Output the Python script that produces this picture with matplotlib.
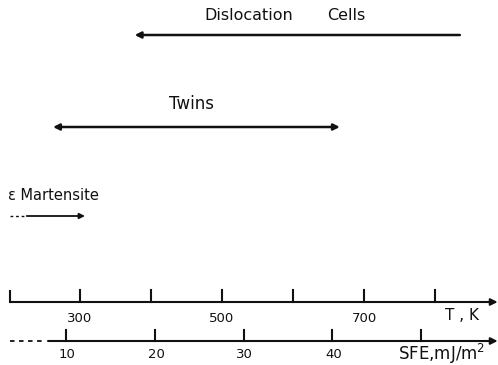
import numpy as np
import matplotlib.pyplot as plt

# Rangos de cada mecanismo (en K)
mecanismos = ['Dislocation Cells', 'Twins', 'ε Martensite']
t_inicio = [835, 262, 225]   # extremo donde empieza la flecha
t_fin = [377, 666, 307]      # extremo donde apunta la flecha
t_discont = 201              # inicio de la parte punteada de martensita

# Ejes de temperatura y SFE
t_ticks = [300, 400, 500, 600, 700, 800]
t_labels = ['300', '', '500', '', '700', '']
sfe_ticks = [10, 20, 30, 40, 50]
sfe_labels = ['10', '20', '30', '40', '']

# Conversion pixel <-> T
px_por_K = 0.71
T0 = 300 - 80 / px_por_K
T1 = 300 + 418 / px_por_K


def px(x):
    return T0 + x / px_por_K


def sfe_a_T(s):
    return px(66 + (np.asarray(s) - 10) * 8.875)


col = '#111111'
plt.rcParams['font.family'] = ['DejaVu Sans']

fig = plt.figure(figsize=(4.98, 3.65), dpi=100)
ax = fig.add_axes([0, 0, 1, 1])
ax.set_xlim(T0, T1)
ax.set_ylim(365, 0)
ax.axis('off')

# Flechas de mecanismos
ax.annotate('', xy=(t_fin[0], 35), xytext=(t_inicio[0], 35),
            arrowprops=dict(arrowstyle='-|>', color=col, lw=1.8, mutation_scale=9,
                            shrinkA=0, shrinkB=0))
pal1, pal2 = mecanismos[0].split()
ax.text(px(204), 16, pal1, fontsize=11.5, ha='left', va='center', color=col)
ax.text(px(327), 15, pal2, fontsize=11.5, ha='left', va='center', color=col)

ax.annotate('', xy=(t_fin[1], 127), xytext=(t_inicio[1], 127),
            arrowprops=dict(arrowstyle='<|-|>', color=col, lw=1.8, mutation_scale=9,
                            shrinkA=0, shrinkB=0))
ax.text(px(191), 104, mecanismos[1], fontsize=12, ha='center', va='center', color=col)

ax.plot([t_discont, t_inicio[2] - 3], [216, 216], color=col, lw=1, ls=(0, (2, 2)))
ax.annotate('', xy=(t_fin[2], 216), xytext=(t_inicio[2], 216),
            arrowprops=dict(arrowstyle='-|>', color=col, lw=1.3, mutation_scale=8,
                            shrinkA=0, shrinkB=0))
ax.text(px(8), 195, mecanismos[2], fontsize=10.5, ha='left', va='center', color=col)

# Eje de temperatura
y_T = 302
x_izq = px(10)
ax.annotate('', xy=(T1 - 0.5, y_T), xytext=(x_izq, y_T),
            arrowprops=dict(arrowstyle='-|>', color=col, lw=1.5, mutation_scale=10,
                            shrinkA=0, shrinkB=0))
ax.plot([x_izq, x_izq], [y_T, y_T - 11], color=col, lw=1.5)
for t, lab in zip(t_ticks, t_labels):
    ax.plot([t, t], [y_T, y_T - 12], color=col, lw=1.5)
    if lab:
        ax.text(t, 319, lab, fontsize=9.5, ha='center', va='center', color=col)
ax.text(px(462), 316, 'T , K', fontsize=11, ha='center', va='center', color=col)

# Eje de SFE
y_S = 341
ax.plot([x_izq, px(45)], [y_S, y_S], color=col, lw=1.3, ls=(0, (2.5, 2.5)))
ax.annotate('', xy=(T1 - 0.5, y_S), xytext=(px(48), y_S),
            arrowprops=dict(arrowstyle='-|>', color=col, lw=1.5, mutation_scale=10,
                            shrinkA=0, shrinkB=0))
for s, lab in zip(sfe_ticks, sfe_labels):
    xs = sfe_a_T(s)
    ax.plot([xs, xs], [y_S, y_S - 11], color=col, lw=1.5)
    if lab:
        ax.text(xs + 2, 355, lab, fontsize=9.5, ha='center', va='center', color=col)
ax.text(px(442), 354, 'SFE,mJ/m$^2$', fontsize=12, ha='center', va='center', color=col)

fig.savefig('out.png', dpi=100)
